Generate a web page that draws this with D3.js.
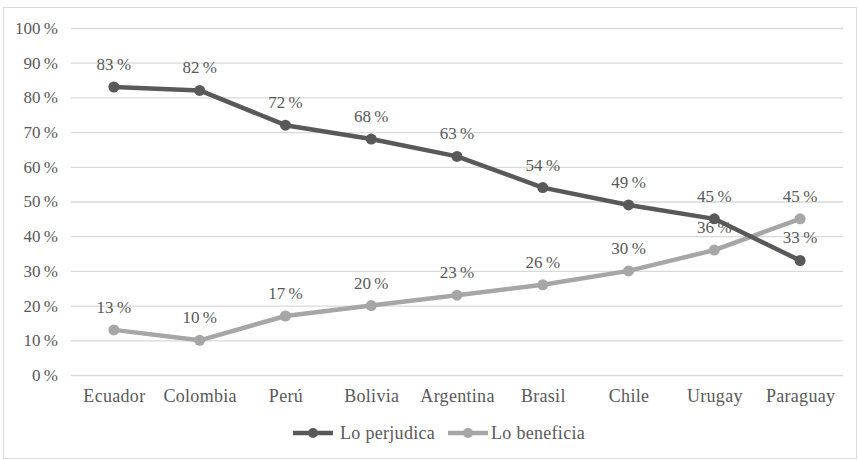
<!DOCTYPE html>
<html>
<head>
  <meta charset="utf-8">
  <title>Lo perjudica / Lo beneficia</title>
  <script src="https://cdn.jsdelivr.net/npm/d3@7/dist/d3.min.js"></script>
  <style>
    body { margin: 0; background: #fff; }
    svg text { font-family: 'Liberation Serif', serif; }
  </style>
</head>
<body>
  <div id="chart"></div>
  <script>
    const countries = ['Ecuador', 'Colombia', 'Perú', 'Bolivia', 'Argentina', 'Brasil', 'Chile', 'Urugay', 'Paraguay'];
    const perjudica = [83, 82, 72, 68, 63, 54, 49, 45, 33];
    const beneficia = [13, 10, 17, 20, 23, 26, 30, 36, 45];
    const yTicks = [0, 10, 20, 30, 40, 50, 60, 70, 80, 90, 100];

    const series = [
      { name: 'Lo perjudica', values: perjudica, color: '#595959' },
      { name: 'Lo beneficia', values: beneficia, color: '#a6a6a6' }
    ];

    const width = 859, height = 460;
    const plot = { left: 71, right: 843, top: 28, bottom: 375 };

    const svg = d3.select('#chart')
      .append('svg')
      .attr('width', width)
      .attr('height', height);

    // chart border
    svg.append('rect')
      .attr('x', 3.5).attr('y', 7.5)
      .attr('width', 853).attr('height', 451)
      .attr('fill', 'none')
      .attr('stroke', '#d9d9d9')
      .attr('stroke-width', 1);

    const x = d3.scalePoint()
      .domain(countries)
      .range([plot.left, plot.right])
      .padding(0.5);

    const y = d3.scaleLinear()
      .domain([0, 100])
      .range([plot.bottom, plot.top]);

    // gridlines + y labels
    const yAxis = d3.axisLeft(y)
      .tickValues(yTicks)
      .tickSize(-(plot.right - plot.left))
      .tickPadding(13)
      .tickFormat(d => d + '\u2009%');

    const gy = svg.append('g')
      .attr('transform', `translate(${plot.left},0)`)
      .call(yAxis)
      .attr('font-size', 17);
    gy.select('.domain').remove();
    gy.selectAll('line').attr('stroke', '#d9d9d9').attr('stroke-width', 1.3);
    gy.selectAll('text').attr('fill', '#595959');

    // x labels
    const xAxis = d3.axisBottom(x).tickSize(0).tickPadding(14);
    const gx = svg.append('g')
      .attr('transform', `translate(0,${plot.bottom})`)
      .call(xAxis)
      .attr('font-size', 18);
    gx.select('.domain').remove();
    gx.selectAll('text').attr('fill', '#595959').attr('letter-spacing', 0.3);

    const line = d3.line()
      .x((d, i) => x(countries[i]))
      .y(d => y(d));

    // light series first, dark one on top at the crossing
    [series[1], series[0]].forEach(s => {
      const g = svg.append('g');
      g.append('path')
        .datum(s.values)
        .attr('d', line)
        .attr('fill', 'none')
        .attr('stroke', s.color)
        .attr('stroke-width', 4.5)
        .attr('stroke-linejoin', 'round');
      g.selectAll('circle')
        .data(s.values)
        .join('circle')
        .attr('cx', (d, i) => x(countries[i]))
        .attr('cy', d => y(d))
        .attr('r', 5.5)
        .attr('fill', s.color);
      g.selectAll('text.lbl')
        .data(s.values)
        .join('text')
        .attr('class', 'lbl')
        .attr('x', (d, i) => x(countries[i]))
        .attr('y', d => y(d) - 17)
        .attr('text-anchor', 'middle')
        .attr('font-size', 17)
        .attr('fill', '#595959')
        .text(d => d + '\u2009%');
    });

    // legend
    const legend = svg.append('g').attr('transform', 'translate(0,433)');
    const legendX = [293, 448];
    const legendTextX = [47, 43];
    series.forEach((s, i) => {
      const lg = legend.append('g').attr('transform', `translate(${legendX[i]},0)`);
      lg.append('line')
        .attr('x1', 0).attr('x2', 40)
        .attr('stroke', s.color)
        .attr('stroke-width', 4.5);
      lg.append('circle')
        .attr('cx', 20).attr('r', 5)
        .attr('fill', s.color);
      lg.append('text')
        .attr('x', legendTextX[i])
        .attr('dy', '0.35em')
        .attr('font-size', 18)
        .attr('letter-spacing', 0.3)
        .attr('fill', '#595959')
        .text(s.name);
    });
  </script>
</body>
</html>
